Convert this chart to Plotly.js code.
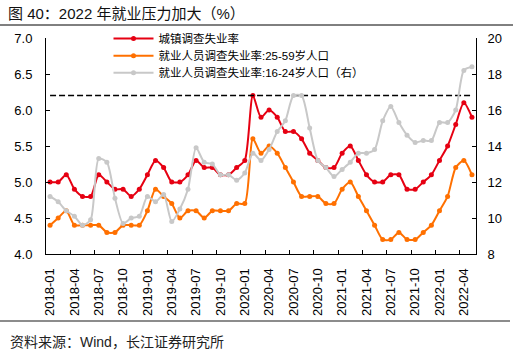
<!DOCTYPE html>
<html>
<head>
<meta charset="utf-8">
<script src="https://cdn.plot.ly/plotly-3.0.1.min.js"></script>
<style>
html,body{margin:0;padding:0;background:#fff;}
#chart{width:513px;height:358px;}
</style>
</head>
<body>
<div id="chart"></div>
<script>
const months = [
  "2018-01","2018-02","2018-03","2018-04","2018-05","2018-06","2018-07","2018-08","2018-09","2018-10","2018-11","2018-12",
  "2019-01","2019-02","2019-03","2019-04","2019-05","2019-06","2019-07","2019-08","2019-09","2019-10","2019-11","2019-12",
  "2020-01","2020-02","2020-03","2020-04","2020-05","2020-06","2020-07","2020-08","2020-09","2020-10","2020-11","2020-12",
  "2021-01","2021-02","2021-03","2021-04","2021-05","2021-06","2021-07","2021-08","2021-09","2021-10","2021-11","2021-12",
  "2022-01","2022-02","2022-03","2022-04","2022-05"
];
const urbanRate = [
  5.0,5.0,5.1,4.9,4.8,4.8,5.1,5.0,4.9,4.9,4.8,4.9,
  5.1,5.3,5.2,5.0,5.0,5.1,5.3,5.2,5.2,5.1,5.1,5.2,
  5.3,6.2,5.9,6.0,5.9,5.7,5.7,5.6,5.4,5.3,5.2,5.2,
  5.4,5.5,5.3,5.1,5.0,5.0,5.1,5.1,4.9,4.9,5.0,5.1,
  5.3,5.5,5.8,6.1,5.9
];
const rate25to59 = [
  4.4,4.5,4.6,4.4,4.4,4.4,4.4,4.3,4.3,4.4,4.4,4.4,
  4.6,4.9,4.8,4.7,4.5,4.6,4.6,4.5,4.6,4.6,4.6,4.7,
  4.7,5.6,5.4,5.5,5.4,5.2,5.0,4.8,4.8,4.8,4.7,4.7,
  4.9,5.0,4.8,4.6,4.4,4.2,4.2,4.3,4.2,4.2,4.3,4.4,
  4.6,4.8,5.2,5.3,5.1
];
const rate16to24 = [
  11.2,10.9,10.4,10.1,9.6,9.9,13.3,13.1,11.1,9.7,10.0,10.1,
  11.2,10.9,11.3,9.8,10.5,11.6,13.9,13.1,13.0,12.4,12.4,12.1,
  12.5,13.6,13.2,13.8,14.8,15.4,16.8,16.8,15.0,13.2,12.8,12.3,
  12.7,13.1,13.6,13.6,13.8,15.4,16.2,15.3,14.6,14.2,14.3,14.3,
  15.3,15.3,16.0,18.2,18.4
];
const refLevel = 6.2;
const seriesNames = [
  "城镇调查失业率",
  "就业人员调查失业率:25-59岁人口",
  "就业人员调查失业率:16-24岁人口（右）"
];
const leftTicks = [4.0,4.5,5.0,5.5,6.0,6.5,7.0];
const rightTicks = [8,10,12,14,16,18,20];

const FONT = '"Liberation Sans", Arial, "Noto Sans CJK SC", sans-serif';
const RED = 'rgb(230,0,18)', ORANGE = 'rgb(255,112,0)', GRAY = 'rgb(200,200,200)';

function series(y, name, color, legendId, yaxis) {
  return {
    x: months, y: y, name: name, type: 'scatter', mode: 'lines+markers',
    yaxis: yaxis, legend: legendId,
    line: {color: color, width: 2, shape: 'spline', smoothing: 0.7},
    marker: {color: color, size: 5, symbol: 'circle'}
  };
}

const traces = [
  series(rate16to24, seriesNames[2], GRAY, 'legend3', 'y2'),
  series(rate25to59, seriesNames[1], ORANGE, 'legend2', 'y'),
  series(urbanRate, seriesNames[0], RED, 'legend', 'y'),
  {
    x: [months[0], months[months.length-1]], y: [refLevel, refLevel],
    type: 'scatter', mode: 'lines', showlegend: false, yaxis: 'y',
    line: {color: '#000', width: 1.5, dash: '6px,3px'}, hoverinfo: 'skip'
  }
];

const plotL = 46, plotR = 476, plotT = 38, plotB = 254;
const W = 513, H = 358;
const pw = plotR - plotL, ph = plotB - plotT;
const px2x = px => (px - plotL) / pw;
const py2y = py => (plotB - py) / ph;

const legendBase = {
  xanchor: 'left', yanchor: 'middle', x: px2x(108.5),
  font: {family: FONT, size: 11.5, color: '#000'},
  bgcolor: 'rgba(0,0,0,0)', borderwidth: 0, itemwidth: 40,
  tracegroupgap: 0
};

const layout = {
  width: W, height: H,
  margin: {l: plotL, r: W - plotR, t: plotT, b: H - plotB, pad: 0},
  paper_bgcolor: '#fff', plot_bgcolor: '#fff',
  font: {family: FONT, size: 13, color: '#000'},
  showlegend: true,
  legend: Object.assign({}, legendBase, {y: py2y(38.5)}),
  legend2: Object.assign({}, legendBase, {y: py2y(55.7)}),
  legend3: Object.assign({}, legendBase, {y: py2y(72.8)}),
  xaxis: {
    type: 'category', tickmode: 'linear', tick0: 0, dtick: 3,
    tickson: 'boundaries', ticks: 'inside', ticklen: 4, tickcolor: '#000',
    tickangle: -90, tickfont: {family: FONT, size: 13, color: '#000'},
    showline: true, linecolor: '#000', linewidth: 1, showgrid: false,
    zeroline: false, ticklabelstandoff: 8, range: [-0.5, months.length - 0.5]
  },
  yaxis: {
    range: [4, 7], tickvals: leftTicks, tickformat: '.1f',
    ticks: 'inside', ticklen: 4, tickcolor: '#000',
    showline: true, linecolor: '#000', linewidth: 1, showgrid: false,
    zeroline: false, tickfont: {family: FONT, size: 13, color: '#000'},
    ticklabelstandoff: 10
  },
  yaxis2: {
    range: [8, 20], tickvals: rightTicks, overlaying: 'y', side: 'right',
    ticks: 'inside', ticklen: 4, tickcolor: '#000',
    showline: true, linecolor: '#000', linewidth: 1, showgrid: false,
    zeroline: false, tickfont: {family: FONT, size: 13, color: '#000'},
    ticklabelstandoff: 8
  },
  title: {
    text: '图 40：2022 年就业压力加大（%）',
    x: 8 / W, xref: 'container', xanchor: 'left',
    y: 1 - 14 / H, yref: 'container', yanchor: 'middle',
    font: {family: FONT, size: 15, color: '#111'}
  },
  shapes: [
    {type: 'line', xref: 'paper', yref: 'paper', x0: px2x(0), x1: px2x(W), y0: py2y(25), y1: py2y(25),
     line: {color: '#000', width: 1}},
    {type: 'line', xref: 'paper', yref: 'paper', x0: px2x(0), x1: px2x(510), y0: py2y(321), y1: py2y(321),
     line: {color: '#8c8c8c', width: 2}}
  ],
  annotations: [
    {text: '资料来源：Wind，长江证券研究所', xref: 'paper', yref: 'paper',
     x: px2x(8), y: py2y(341.5), xanchor: 'left', yanchor: 'middle', showarrow: false,
     font: {family: FONT, size: 14, color: '#222'}}
  ]
};

Plotly.newPlot('chart', traces, layout, {displayModeBar: false, staticPlot: true});
</script>
</body>
</html>
